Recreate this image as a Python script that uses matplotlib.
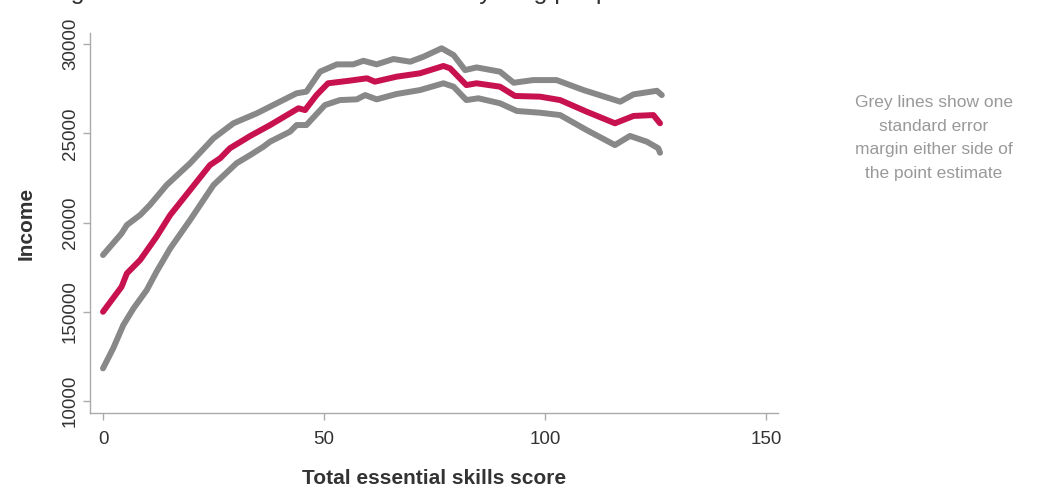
import matplotlib.pyplot as plt

plt.rcParams['font.family'] = ['Liberation Sans', 'DejaVu Sans']

# point estimate (red line)
est_x = [0, 4.2, 5.4, 8.4, 12.1, 15.2, 19.7, 24.2, 26.5, 28.7, 33.3, 37.8, 42.3, 44.2, 45.7,
         48.3, 50.9, 55.9, 59.7, 61.5, 66.4, 71.7, 77.0, 78.5, 82.2, 84.5, 89.8, 93.2, 98.9,
         103.4, 109.4, 115.8, 120.0, 124.5, 126.0]
est_y = [15000, 16400, 17150, 17900, 19200, 20420, 21820, 23220, 23600, 24160, 24850, 25460,
         26120, 26400, 26300, 27140, 27800, 27950, 28080, 27890, 28170, 28360, 28770, 28640,
         27700, 27800, 27610, 27090, 27050, 26860, 26210, 25560, 25970, 26020, 25560]

# upper standard error margin
upper_x = [0, 4.2, 5.4, 8.4, 10.6, 14.4, 19.7, 25.0, 29.5, 34.8, 39.3, 43.8, 46.0, 49.1, 52.9,
           56.6, 58.9, 61.9, 65.7, 69.5, 72.5, 76.6, 79.3, 81.9, 84.5, 89.8, 92.9, 97.3,
           102.6, 108.7, 117.0, 120.0, 125.3, 126.4]
upper_y = [18180, 19390, 19860, 20420, 20980, 22100, 23320, 24720, 25560, 26120, 26680, 27240,
           27330, 28450, 28860, 28860, 29060, 28860, 29160, 29010, 29290, 29760, 29380, 28540,
           28690, 28450, 27830, 27980, 27980, 27420, 26770, 27180, 27380, 27140]

# lower standard error margin
lower_x = [0, 2.3, 4.6, 6.9, 9.9, 12.1, 15.2, 19.7, 25.0, 30.2, 33.3, 36.3, 37.8, 42.3, 43.8,
           46.0, 50.2, 53.6, 57.4, 59.3, 61.9, 66.4, 71.7, 77.0, 79.3, 82.2, 84.9, 89.8, 93.6,
           98.9, 103.4, 109.4, 115.8, 119.2, 123.0, 125.6, 126.0]
lower_y = [11830, 12950, 14260, 15190, 16220, 17240, 18550, 20140, 22100, 23320, 23780, 24250,
           24530, 25090, 25460, 25460, 26580, 26860, 26900, 27140, 26900, 27200, 27420, 27800,
           27610, 26860, 26960, 26680, 26250, 26150, 26020, 25180, 24340, 24850, 24530, 24160,
           23910]

x_ticks = [0, 50, 100, 150]
y_ticks = [10000, 15000, 20000, 25000, 30000]
y_tick_labels = ['10000', '150000', '20000', '25000', '30000']

grey = '#888888'
red = '#c8124f'
axis_col = '#aaaaaa'

fig = plt.figure(figsize=(10.37, 4.90), dpi=100)
ax = fig.add_axes([0.0868, 0.1571, 0.6635, 0.7755])

ax.plot(upper_x, upper_y, color=grey, lw=4.3, solid_capstyle='round', solid_joinstyle='round')
ax.plot(lower_x, lower_y, color=grey, lw=4.3, solid_capstyle='round', solid_joinstyle='round')
ax.plot(est_x, est_y, color=red, lw=4.3, solid_capstyle='round', solid_joinstyle='round')

ax.set_xlim(-2.94, 152.7)
ax.set_ylim(9328, 30616)
ax.set_xticks(x_ticks)
ax.set_yticks(y_ticks)
ax.set_yticklabels(y_tick_labels, rotation=90, va='center')

for s in ['top', 'right']:
    ax.spines[s].set_visible(False)
for s in ['left', 'bottom']:
    ax.spines[s].set_color(axis_col)
    ax.spines[s].set_linewidth(1.0)
ax.tick_params(colors=axis_col, labelcolor='#333333', labelsize=13.5, length=5, width=1.0)
ax.tick_params(axis='x', pad=8)
ax.tick_params(axis='y', pad=3)

ax.set_xlabel('Total essential skills score', fontsize=15, fontweight='bold', color='#333333',
              labelpad=15)
ax.set_ylabel('Income', fontsize=15, fontweight='bold', color='#333333', labelpad=19)

fig.text(934 / 1037, 1 - 138 / 490,
         'Grey lines show one\nstandard error\nmargin either side of\nthe point estimate',
         ha='center', va='center', fontsize=12.5, color='#999999', linespacing=1.72)

# title is cut off at the top of the image, only descenders show
fig.text(50 / 1037, 1 + 1 / 490,
         'Figure 3: Estimated annual income for young people and total essential skills score',
         ha='left', va='baseline', fontsize=18, color='#333333')

fig.savefig('out.png', dpi=100)
